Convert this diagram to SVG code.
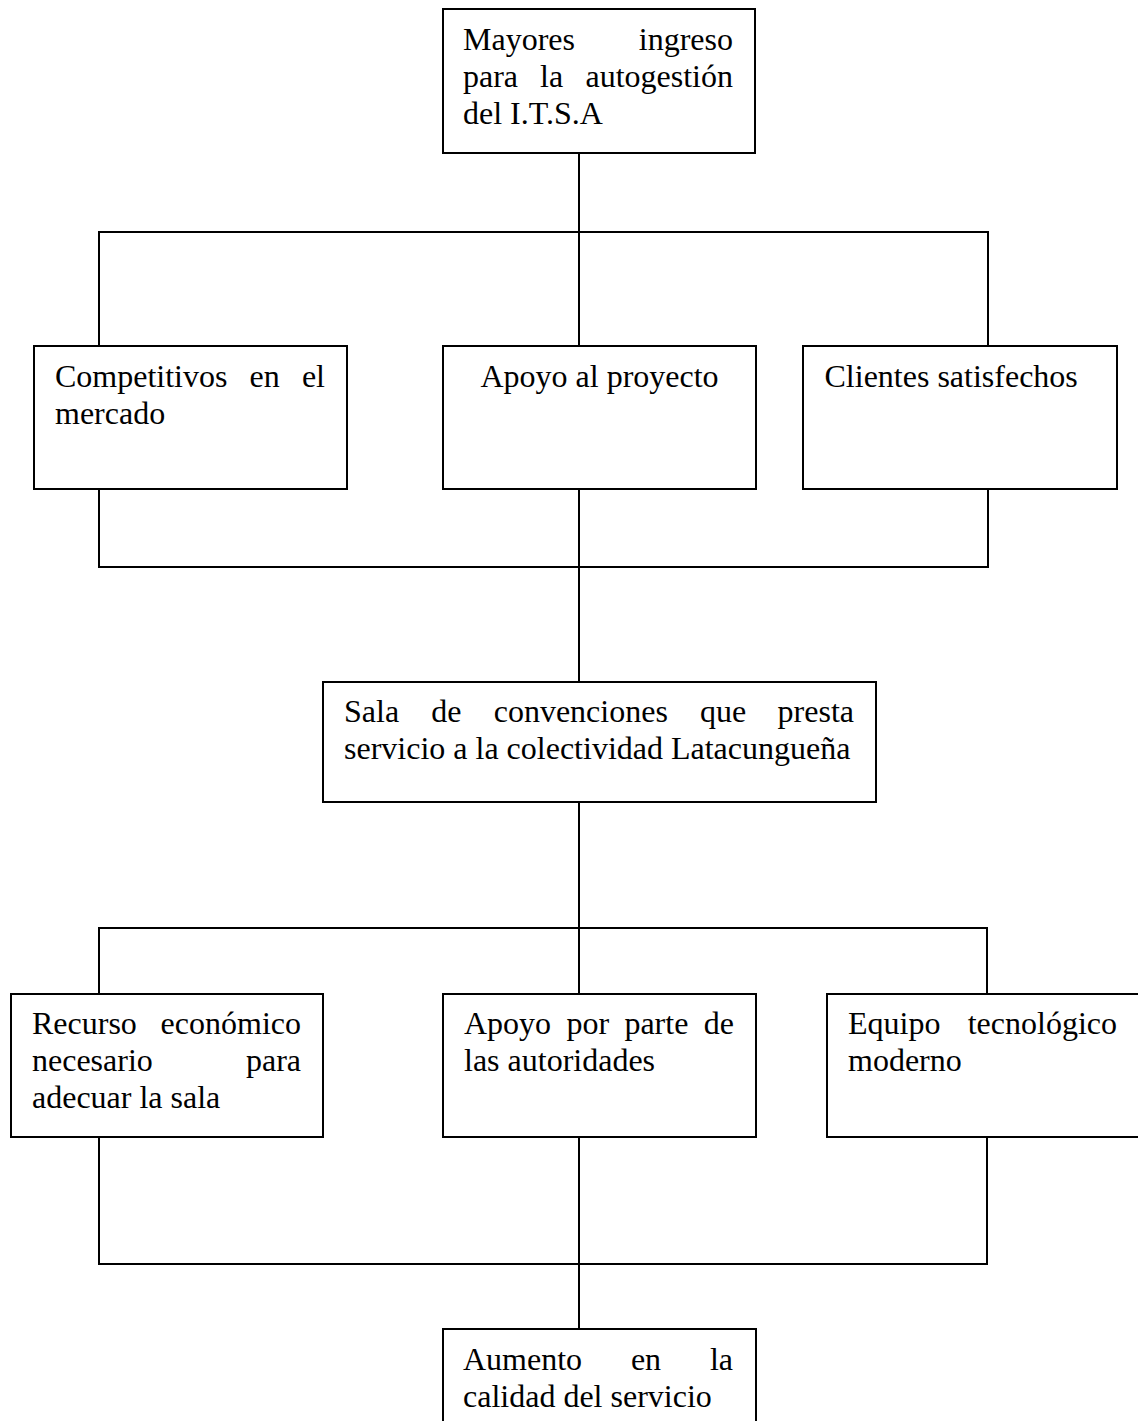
<svg xmlns="http://www.w3.org/2000/svg" width="1138" height="1421" viewBox="0 0 1138 1421">
<style>
.box{fill:#fff;stroke:#000;stroke-width:2}
.ln{fill:none;stroke:#000;stroke-width:2}
text{font-family:"Liberation Serif","Times New Roman",serif;font-size:32px;fill:#000}
.e{text-anchor:end}
.m{text-anchor:middle}
</style>
<rect width="1138" height="1421" fill="#fff"/>
<g id="connectors">
<path class="ln" d="M579 153V232M99 346V232H988V346M579 232V346"/>
<path class="ln" d="M99 489V567H988V489M579 489V682"/>
<path class="ln" d="M579 802V928M99 994V928H987V994M579 928V994"/>
<path class="ln" d="M99 1137V1264H987V1137M579 1137V1329"/>
</g>
<g id="n-top">
<rect class="box" x="443" y="9" width="312" height="144"/>
<text x="463" y="50">Mayores</text><text class="e" x="733" y="50">ingreso</text>
<text x="463" y="87">para</text><text x="540" y="87">la</text><text class="e" x="733" y="87">autogestión</text>
<text x="463" y="124">del I.T.S.A</text>
</g>
<g id="n-competitivos">
<rect class="box" x="34" y="346" width="313" height="143"/>
<text x="55" y="387">Competitivos</text><text x="249.6" y="387">en</text><text class="e" x="325" y="387">el</text>
<text x="55" y="424">mercado</text>
</g>
<g id="n-apoyo-proyecto">
<rect class="box" x="443" y="346" width="313" height="143"/>
<text class="m" x="599.5" y="387">Apoyo al proyecto</text>
</g>
<g id="n-clientes">
<rect class="box" x="803" y="346" width="314" height="143"/>
<text x="824.5" y="387">Clientes satisfechos</text>
</g>
<g id="n-sala">
<rect class="box" x="323" y="682" width="553" height="120"/>
<text x="344" y="722">Sala</text><text x="431.3" y="722">de</text><text x="493.7" y="722">convenciones</text><text x="700.1" y="722">que</text><text class="e" x="854" y="722">presta</text>
<text x="344" y="759">servicio a la colectividad Latacungueña</text>
</g>
<g id="n-recurso">
<rect class="box" x="11" y="994" width="312" height="143"/>
<text x="32" y="1034">Recurso</text><text class="e" x="301" y="1034">económico</text>
<text x="32" y="1071">necesario</text><text class="e" x="301" y="1071">para</text>
<text x="32" y="1108">adecuar la sala</text>
</g>
<g id="n-autoridades">
<rect class="box" x="443" y="994" width="313" height="143"/>
<text x="464" y="1034">Apoyo</text><text x="566.4" y="1034">por</text><text x="624.4" y="1034">parte</text><text class="e" x="734" y="1034">de</text>
<text x="464" y="1071">las autoridades</text>
</g>
<g id="n-equipo">
<rect class="box" x="827" y="994" width="320" height="143"/>
<text x="848" y="1034">Equipo</text><text class="e" x="1117" y="1034">tecnológico</text>
<text x="848" y="1071">moderno</text>
</g>
<g id="n-aumento">
<rect class="box" x="443" y="1329" width="313" height="120"/>
<text x="463" y="1370">Aumento</text><text x="630.9" y="1370">en</text><text class="e" x="733" y="1370">la</text>
<text x="463" y="1407">calidad del servicio</text>
</g>
</svg>
